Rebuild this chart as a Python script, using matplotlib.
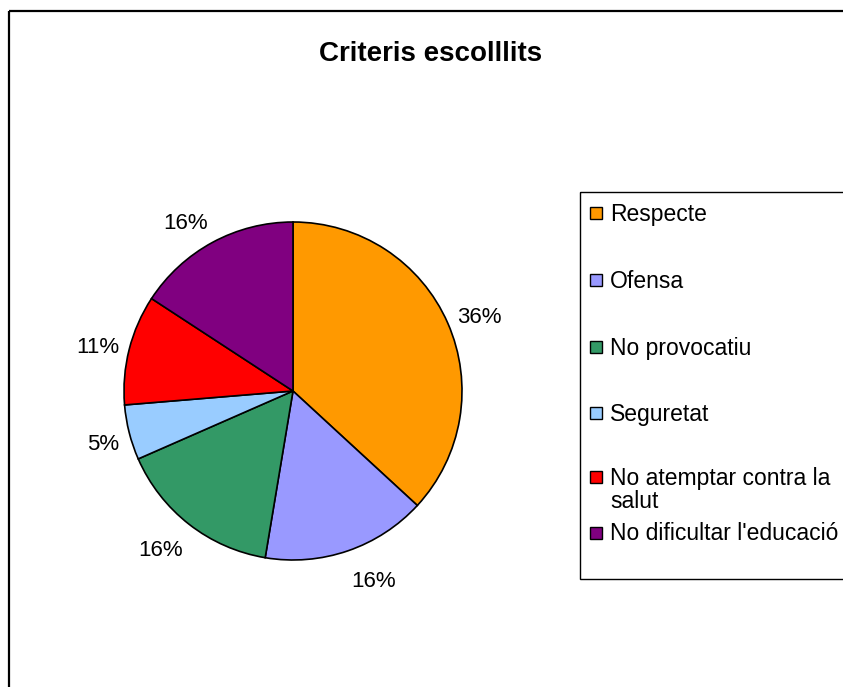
import numpy as np
import matplotlib
matplotlib.use("Agg")
import matplotlib.pyplot as plt
from matplotlib.patches import Rectangle

plt.rcParams['font.family'] = ['Liberation Sans', 'DejaVu Sans']

# dades del grafic
criteris = ["Respecte", "Ofensa", "No provocatiu", "Seguretat",
            "No atemptar contra la\nsalut", "No dificultar l'educació"]
vots = [7, 3, 3, 1, 2, 3]
etiquetes = ["36%", "16%", "16%", "5%", "11%", "16%"]
colors = ["#FF9900", "#9999FF", "#339966", "#99CCFF", "#FF0000", "#800080"]

W, H = 843, 687
fig = plt.figure(figsize=(W / 100, H / 100), dpi=100)

# capa en pixels per al marc, el titol i la llegenda
bg = fig.add_axes([0, 0, 1, 1])
bg.set_xlim(0, W)
bg.set_ylim(H, 0)
bg.axis("off")
bg.add_patch(Rectangle((9, 11), 900, 900, fill=False, edgecolor="black", linewidth=1.6))
bg.text(431, 54, "Criteris escolllits", fontsize=20, fontweight="bold",
        ha="center", va="center")

# pastis
R = 169
cx, cy = 293, H - 391
ax = fig.add_axes([(cx - 1.5 * R) / W, (cy - 1.5 * R) / H, 3 * R / W, 3 * R / H])
wedges, texts = ax.pie(vots, colors=colors, startangle=90, counterclock=False,
                       wedgeprops=dict(edgecolor="black", linewidth=1.2))
for w, et in zip(wedges, etiquetes):
    ang = np.radians((w.theta1 + w.theta2) / 2)
    c, s = np.cos(ang), np.sin(ang)
    ax.text(1.06 * c, 1.16 * s - 0.03, et, fontsize=16,
            ha="left" if c > 0 else "right", va="center")
ax.set_xlim(-1.5, 1.5)
ax.set_ylim(-1.5, 1.5)
ax.axis("off")

# llegenda
bg.add_patch(Rectangle((580, 192), 400, 387, fill=False, edgecolor="black", linewidth=1.0))
files = [213, 280, 347, 413, 477, 533]
for nom, col, y in zip(criteris, colors, files):
    bg.add_patch(Rectangle((590, y - 6), 12, 12, facecolor=col, edgecolor="black", linewidth=1.0))
    bg.text(610, y - 10.5, nom, fontsize=16.5, ha="left", va="top", linespacing=1.0)

fig.savefig("out.png", dpi=100)
